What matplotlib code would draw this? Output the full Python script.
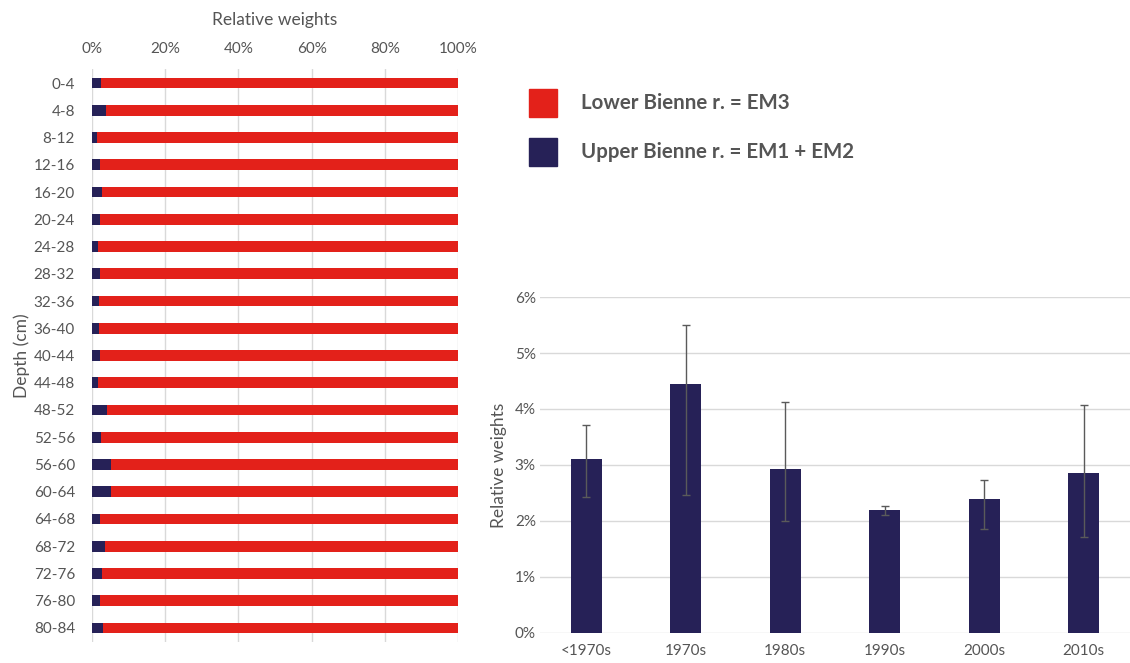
import matplotlib
matplotlib.use('Agg')
import matplotlib.pyplot as plt
import numpy as np
from matplotlib.patches import Rectangle

plt.rcParams['font.family'] = ['Lato', 'DejaVu Sans']

# depth profile: share of upper Bienne river (EM1 + EM2), percent
depths = ["0-4", "4-8", "8-12", "12-16", "16-20", "20-24", "24-28", "28-32",
          "32-36", "36-40", "40-44", "44-48", "48-52", "52-56", "56-60",
          "60-64", "64-68", "68-72", "72-76", "76-80", "80-84"]
upper = [2.5, 3.9, 1.5, 2.4, 2.7, 2.3, 1.6, 2.2, 2.0, 2.0, 2.3, 1.8, 4.1,
         2.5, 5.3, 5.4, 2.4, 3.6, 2.9, 2.4, 3.0]
lower = [100 - u for u in upper]

# decade means with error range
decades = ["<1970s", "1970s", "1980s", "1990s", "2000s", "2010s"]
mean_w = [3.10, 4.45, 2.93, 2.20, 2.40, 2.85]
err_lo = [2.43, 2.46, 2.00, 2.10, 1.86, 1.72]
err_hi = [3.72, 5.50, 4.12, 2.27, 2.74, 4.07]

red = '#e3211a'
navy = '#262157'
txt = '#555555'
gridc = '#d9d9d9'

fig = plt.figure(figsize=(11.3, 6.63), dpi=100)

# ---- left: stacked horizontal bars
ax1 = fig.add_axes([91.7/1130, 1-641.6/663, (458.3-91.7)/1130, (641.6-69.4)/663])
y = np.arange(len(depths))
ax1.barh(y, upper, height=0.39, color=navy)
ax1.barh(y, lower, left=upper, height=0.39, color=red)
ax1.set_ylim(len(depths)-0.5, -0.5)
ax1.set_xlim(0, 100)
ax1.set_yticks(y)
ax1.set_yticklabels(depths)
ax1.set_xticks([0, 20, 40, 60, 80, 100])
ax1.set_xticklabels(["0%", "20%", "40%", "60%", "80%", "100%"])
ax1.xaxis.tick_top()
ax1.xaxis.set_label_position('top')
ax1.set_xlabel("Relative weights", color=txt, fontsize=12.5, labelpad=12)
ax1.set_ylabel("Depth (cm)", color=txt, fontsize=12.5, labelpad=3)
ax1.tick_params(axis='x', length=0, pad=10, labelsize=11, colors=txt)
ax1.tick_params(axis='y', length=0, pad=12, labelsize=11, colors=txt)
ax1.grid(axis='x', color=gridc, lw=1)
ax1.set_axisbelow(True)
for s in ax1.spines.values():
    s.set_visible(False)

# ---- right: decade bars with error bars
ax2 = fig.add_axes([540/1130, 1-633/663, 590/1130, 336/663])
x = np.arange(len(decades))
yerr = [np.array(mean_w)-np.array(err_lo), np.array(err_hi)-np.array(mean_w)]
ax2.bar(x, mean_w, width=0.31, color=navy, zorder=2)
ax2.errorbar(x, mean_w, yerr=yerr, fmt='none', ecolor='#5a5a5a', elinewidth=1,
             capsize=3, capthick=1, zorder=3)
ax2.set_xlim(-0.465, 5.465)
ax2.set_ylim(0, 6)
ax2.set_yticks([0, 1, 2, 3, 4, 5, 6])
ax2.set_yticklabels(["0%", "1%", "2%", "3%", "4%", "5%", "6%"])
ax2.set_xticks(x)
ax2.set_xticklabels(decades)
ax2.set_ylabel("Relative weights", color=txt, fontsize=12.5, labelpad=6)
ax2.tick_params(axis='y', length=0, pad=3, labelsize=11, colors=txt)
ax2.tick_params(axis='x', length=0, pad=8, labelsize=11, colors=txt)
ax2.grid(axis='y', color=gridc, lw=1, zorder=0)
ax2.set_axisbelow(True)
for s in ax2.spines.values():
    s.set_visible(False)

# ---- legend
fig.patches.append(Rectangle((529/1130, 1-117/663), 28/1130, 28/663,
                             transform=fig.transFigure, color=red))
fig.patches.append(Rectangle((529/1130, 1-166/663), 28/1130, 28/663,
                             transform=fig.transFigure, color=navy))
fig.text(581/1130, 1-103/663, "Lower Bienne r. = EM3", color=txt,
         fontsize=14.8, fontweight='bold', va='center')
fig.text(581/1130, 1-152/663, "Upper Bienne r. = EM1 + EM2", color=txt,
         fontsize=14.8, fontweight='bold', va='center')

fig.savefig('out.png', dpi=100, facecolor='white')
